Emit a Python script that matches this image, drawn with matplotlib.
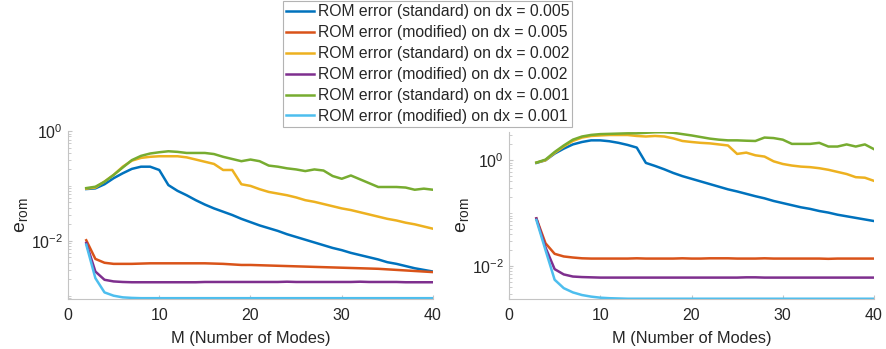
import numpy as np
import matplotlib
matplotlib.use("Agg")
import matplotlib.pyplot as plt
from matplotlib.lines import Line2D

plt.rcParams['font.family'] = ['Liberation Sans', 'DejaVu Sans']

# ---- data (log10 of e_rom) ----
M_left = list(range(2, 41))
M_right = list(range(3, 41))

left_std_005 = [-1.057, -1.045, -0.97, -0.86, -0.77, -0.69, -0.65, -0.65, -0.71, -0.985,
                -1.09, -1.17, -1.26, -1.34, -1.41, -1.47, -1.53, -1.60, -1.66, -1.72,
                -1.77, -1.82, -1.88, -1.93, -1.98, -2.03, -2.08, -2.13, -2.17, -2.22,
                -2.26, -2.30, -2.34, -2.39, -2.42, -2.46, -2.50, -2.53, -2.56]
left_mod_005 = [-1.99, -2.33, -2.40, -2.42, -2.42, -2.42, -2.415, -2.41, -2.41, -2.41,
                -2.41, -2.41, -2.41, -2.41, -2.415, -2.42, -2.43, -2.44, -2.44, -2.445,
                -2.45, -2.455, -2.46, -2.465, -2.47, -2.475, -2.48, -2.485, -2.49, -2.495,
                -2.50, -2.505, -2.51, -2.52, -2.53, -2.54, -2.55, -2.56, -2.57]
left_std_002 = [-1.05, -1.03, -0.92, -0.80, -0.65, -0.54, -0.49, -0.47, -0.46, -0.46,
                -0.46, -0.48, -0.52, -0.56, -0.60, -0.71, -0.71, -0.97, -1.00, -1.06,
                -1.11, -1.14, -1.17, -1.21, -1.26, -1.29, -1.33, -1.37, -1.41, -1.44,
                -1.48, -1.52, -1.56, -1.60, -1.63, -1.67, -1.70, -1.74, -1.78]
left_mod_002 = [-2.04, -2.56, -2.71, -2.74, -2.75, -2.755, -2.755, -2.755, -2.755, -2.755,
                -2.755, -2.755, -2.755, -2.75, -2.75, -2.75, -2.75, -2.75, -2.75, -2.75,
                -2.75, -2.75, -2.745, -2.75, -2.75, -2.75, -2.75, -2.75, -2.75, -2.75,
                -2.745, -2.75, -2.75, -2.75, -2.75, -2.755, -2.755, -2.755, -2.755]
left_std_001 = [-1.04, -1.015, -0.924, -0.80, -0.665, -0.53, -0.453, -0.41, -0.387, -0.369,
                -0.38, -0.40, -0.40, -0.40, -0.42, -0.47, -0.51, -0.55, -0.52, -0.55,
                -0.63, -0.65, -0.68, -0.70, -0.73, -0.70, -0.72, -0.82, -0.87, -0.81,
                -0.88, -0.95, -1.02, -1.02, -1.02, -1.03, -1.07, -1.05, -1.07]
left_mod_001 = [-2.07, -2.68, -2.94, -3.00, -3.03, -3.04, -3.045, -3.045, -3.045, -3.045,
                -3.045, -3.045, -3.045, -3.045, -3.045, -3.045, -3.045, -3.045, -3.045, -3.045,
                -3.045, -3.045, -3.045, -3.045, -3.045, -3.045, -3.045, -3.045, -3.045, -3.045,
                -3.045, -3.045, -3.045, -3.045, -3.045, -3.045, -3.045, -3.045, -3.045]

right_std_005 = [-0.05, 0.0, 0.126, 0.22, 0.30, 0.346, 0.377, 0.377, 0.36, 0.33,
                 0.29, 0.24, -0.05, -0.107, -0.17, -0.24, -0.30, -0.35, -0.40, -0.45,
                 -0.50, -0.55, -0.59, -0.635, -0.68, -0.72, -0.77, -0.81, -0.85, -0.89,
                 -0.92, -0.96, -0.99, -1.03, -1.06, -1.09, -1.12, -1.15]
right_mod_005 = [-1.10, -1.57, -1.77, -1.82, -1.84, -1.855, -1.86, -1.86, -1.86, -1.86,
                 -1.86, -1.855, -1.86, -1.86, -1.86, -1.86, -1.855, -1.86, -1.86, -1.855,
                 -1.855, -1.855, -1.86, -1.86, -1.86, -1.855, -1.86, -1.86, -1.86, -1.86,
                 -1.86, -1.86, -1.865, -1.86, -1.86, -1.86, -1.86, -1.86]
right_std_002 = [-0.044, 0.0, 0.14, 0.26, 0.365, 0.43, 0.46, 0.47, 0.478, 0.478,
                 0.478, 0.46, 0.45, 0.46, 0.45, 0.415, 0.365, 0.346, 0.33, 0.32,
                 0.30, 0.28, 0.12, 0.145, 0.094, 0.07, -0.02, -0.07, -0.10, -0.12,
                 -0.13, -0.15, -0.18, -0.22, -0.26, -0.32, -0.33, -0.39]
right_mod_002 = [-1.10, -1.65, -2.06, -2.16, -2.20, -2.21, -2.215, -2.22, -2.22, -2.22,
                 -2.22, -2.22, -2.22, -2.22, -2.22, -2.22, -2.22, -2.22, -2.22, -2.22,
                 -2.22, -2.22, -2.22, -2.215, -2.215, -2.22, -2.22, -2.22, -2.22, -2.22,
                 -2.22, -2.22, -2.22, -2.22, -2.22, -2.22, -2.22, -2.22]
right_std_001 = [-0.044, 0.013, 0.157, 0.28, 0.39, 0.45, 0.48, 0.495, 0.50, 0.505,
                 0.51, 0.51, 0.52, 0.53, 0.53, 0.52, 0.495, 0.47, 0.44, 0.41,
                 0.39, 0.377, 0.377, 0.37, 0.365, 0.43, 0.42, 0.39, 0.31, 0.31,
                 0.31, 0.33, 0.26, 0.26, 0.30, 0.26, 0.30, 0.21]
right_mod_001 = [-1.13, -1.70, -2.26, -2.42, -2.50, -2.55, -2.58, -2.60, -2.61, -2.615,
                 -2.62, -2.62, -2.62, -2.62, -2.62, -2.62, -2.62, -2.62, -2.62, -2.62,
                 -2.62, -2.62, -2.62, -2.62, -2.62, -2.62, -2.62, -2.62, -2.62, -2.62,
                 -2.62, -2.62, -2.62, -2.62, -2.62, -2.62, -2.62, -2.62]

labels = ["ROM error (standard) on dx = 0.005",
          "ROM error (modified) on dx = 0.005",
          "ROM error (standard) on dx = 0.002",
          "ROM error (modified) on dx = 0.002",
          "ROM error (standard) on dx = 0.001",
          "ROM error (modified) on dx = 0.001"]
colors = ["#0072BD", "#D95319", "#EDB120", "#7E2F8E", "#77AC30", "#4DBEEE"]

left_series = [left_std_005, left_mod_005, left_std_002, left_mod_002, left_std_001, left_mod_001]
right_series = [right_std_005, right_mod_005, right_std_002, right_mod_002, right_std_001, right_mod_001]

fig = plt.figure(figsize=(8.86, 3.49), dpi=100)
W, H = 886, 349
def pos(x0, x1, ytop, ybot):
    return [x0 / W, 1 - ybot / H, (x1 - x0) / W, (ybot - ytop) / H]

ax1 = fig.add_axes(pos(68, 433, 131, 299))
ax2 = fig.add_axes(pos(509, 874, 132, 299))

spine_c = "#c4c4c4"
text_c = "#262626"
for ax, M, series, ylim in [(ax1, M_left, left_series, (10**-3.06, 1.0)),
                            (ax2, M_right, right_series, (10**-2.625, 10**0.535))]:
    for s, c in zip(series, colors):
        ax.plot(M, 10 ** np.array(s), color=c, lw=1.8, solid_joinstyle='round')
    ax.set_yscale('log')
    ax.set_xlim(0, 40)
    ax.set_ylim(*ylim)
    ax.set_xticks([0, 10, 20, 30, 40])
    ax.set_yticks([1e-2, 1e0])
    ax.set_yticklabels([r'$\mathregular{10^{-2}}$', r'$\mathregular{10^{0}}$'])
    ax.yaxis.set_minor_locator(matplotlib.ticker.LogLocator(base=10, subs=np.arange(1, 10)))
    ax.yaxis.set_minor_formatter(matplotlib.ticker.NullFormatter())
    for side in ['top', 'right']:
        ax.spines[side].set_visible(False)
    for side in ['left', 'bottom']:
        ax.spines[side].set_color(spine_c)
        ax.spines[side].set_linewidth(0.8)
    ax.tick_params(which='both', direction='in', colors=spine_c, labelcolor=text_c, labelsize=11.5)
    ax.tick_params(axis='x', pad=6.5)
    ax.tick_params(which='major', length=3)
    ax.tick_params(which='minor', length=2)
    ax.set_xlabel('M (Number of Modes)', fontsize=11.8, color=text_c, labelpad=6)
    ax.set_ylabel(r'$\mathregular{e_{rom}}$', fontsize=14, color=text_c, labelpad=1)

handles = [Line2D([0], [0], color=c, lw=1.8) for c in colors]
leg = fig.legend(handles, labels, loc='upper left', bbox_to_anchor=(283 / W, 1 - 1 / H),
                 fontsize=11.3, frameon=True, fancybox=False, edgecolor='#a0a0a0',
                 handlelength=1.8, handletextpad=0.2, labelspacing=0.38, borderpad=0.2,
                 borderaxespad=0)
for t in leg.get_texts():
    t.set_color(text_c)
leg.get_frame().set_linewidth(0.8)

fig.savefig('out.png', dpi=100, facecolor='white')
